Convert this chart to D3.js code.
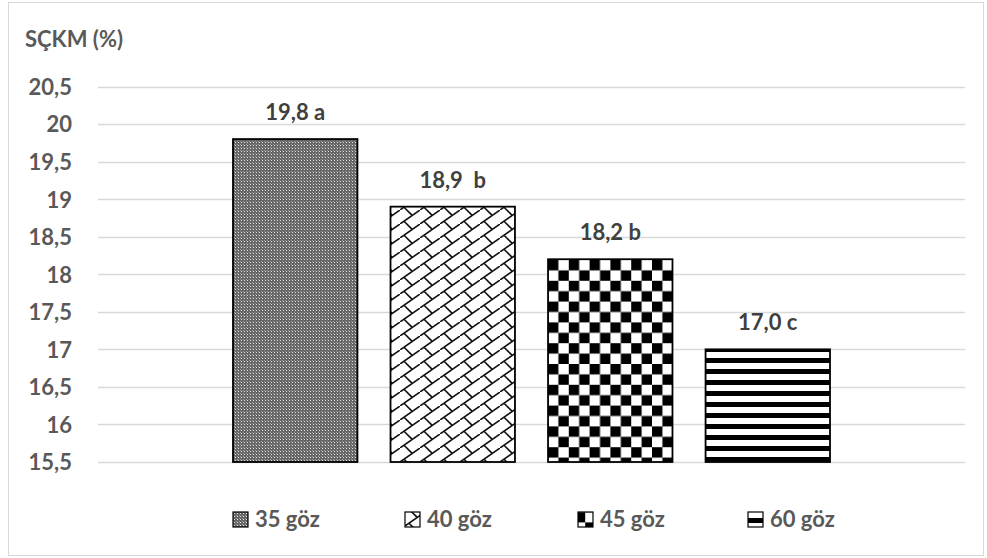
<!DOCTYPE html>
<html>
<head>
<meta charset="utf-8">
<script src="https://cdn.jsdelivr.net/npm/d3@7"></script>
<style>
  html, body { margin: 0; padding: 0; background: #fff; }
  svg { display: block; font-family: Lato, "Open Sans", sans-serif; }
</style>
</head>
<body>
<svg id="chart" width="987" height="558"></svg>
<script>
// Eye count groups and their SÇKM values
const categories = ["35 göz", "40 göz", "45 göz", "60 göz"];
const values = [19.8, 18.9, 18.2, 17.0];
const valueLabels = ["19,8 a", "18,9  b", "18,2 b", "17,0 c"];
const yTicks = [15.5, 16, 16.5, 17, 17.5, 18, 18.5, 19, 19.5, 20, 20.5];
const patternIds = ["pat-dots", "pat-brick", "pat-checker", "pat-stripes"];

const svg = d3.select("#chart");
const W = 987, H = 558;
const FONT = 22;

// chart frame
svg.append("rect")
  .attr("x", 8.5).attr("y", 2.5)
  .attr("width", W - 12).attr("height", H - 5)
  .attr("fill", "#fff").attr("stroke", "#d9d9d9").attr("stroke-width", 1);

// fill patterns
const defs = svg.append("defs");

// fine gray dots
const p1 = defs.append("pattern").attr("id", "pat-dots")
  .attr("patternUnits", "userSpaceOnUse").attr("width", 3).attr("height", 3);
p1.append("rect").attr("width", 3).attr("height", 3).attr("fill", "#666");
p1.append("rect").attr("x", 1).attr("y", 1).attr("width", 1).attr("height", 1).attr("fill", "#e0e0e0");
p1.append("rect").attr("x", 0).attr("y", 0).attr("width", 1).attr("height", 1).attr("fill", "#999");

// diagonal brick
const bw = 20, bh = 14;
const p2 = defs.append("pattern").attr("id", "pat-brick")
  .attr("patternUnits", "userSpaceOnUse").attr("width", bw).attr("height", bh);
p2.append("rect").attr("width", bw).attr("height", bh).attr("fill", "#fff");
const brickLines = [
  [-bw, 2 * bh, 2 * bw, -bh],
  [4, 11.2, 12.2, 19.4],
  [4, 11.2 - bh, 12.2, 19.4 - bh]
];
p2.selectAll("line").data(brickLines).join("line")
  .attr("x1", d => d[0]).attr("y1", d => d[1])
  .attr("x2", d => d[2]).attr("y2", d => d[3])
  .attr("stroke", "#111").attr("stroke-width", 1.6);

// checkerboard
const cs = 10.4;
const p3 = defs.append("pattern").attr("id", "pat-checker")
  .attr("patternUnits", "userSpaceOnUse").attr("width", cs * 2).attr("height", cs * 2)
  .attr("x", 548).attr("y", 260);
p3.append("rect").attr("width", cs * 2).attr("height", cs * 2).attr("fill", "#fff");
p3.append("rect").attr("x", 0).attr("y", 0).attr("width", cs).attr("height", cs).attr("fill", "#000");
p3.append("rect").attr("x", cs).attr("y", cs).attr("width", cs).attr("height", cs).attr("fill", "#000");

// horizontal stripes
const p4 = defs.append("pattern").attr("id", "pat-stripes")
  .attr("patternUnits", "userSpaceOnUse").attr("width", 10).attr("height", 11)
  .attr("y", 352);
p4.append("rect").attr("width", 10).attr("height", 11).attr("fill", "#fff");
p4.append("rect").attr("y", 6).attr("width", 10).attr("height", 5).attr("fill", "#000");

// scales
const gridLeft = 98, gridRight = 965;
const x = d3.scaleBand().domain(categories)
  .range([gridLeft, gridRight]).paddingInner(0.21).paddingOuter(0.857);
const y = d3.scaleLinear().domain([15.5, 20.5]).range([462, 86.5]);

// gridlines
svg.append("g").selectAll("line").data(yTicks).join("line")
  .attr("x1", gridLeft).attr("x2", gridRight)
  .attr("y1", d => Math.round(y(d)) + 0.5).attr("y2", d => Math.round(y(d)) + 0.5)
  .attr("stroke", "#d9d9d9").attr("stroke-width", 1.3);

// y axis labels
const fmt = d => String(d).replace(".", ",");
const yAxis = d3.axisLeft(y).tickValues(yTicks).tickFormat(fmt).tickSize(0).tickPadding(0);
const gy = svg.append("g").attr("transform", "translate(72,0)").call(yAxis);
gy.select(".domain").remove();
gy.selectAll("text")
  .attr("fill", "#595959").attr("font-size", FONT).attr("font-weight", "bold")
  .attr("font-family", "Lato, 'Open Sans', sans-serif").attr("dy", "0.36em");

// axis title
svg.append("text").attr("x", 25).attr("y", 47)
  .attr("fill", "#595959").attr("font-size", FONT).attr("font-weight", "bold")
  .text("SÇKM (%)");

// bars
svg.append("g").selectAll("rect").data(values).join("rect")
  .attr("x", (d, i) => x(categories[i]))
  .attr("y", d => y(d))
  .attr("width", x.bandwidth())
  .attr("height", d => y(15.5) - y(d))
  .attr("fill", (d, i) => `url(#${patternIds[i]})`)
  .attr("stroke", "#000").attr("stroke-width", 1.8);

// value labels
svg.append("g").selectAll("text").data(values).join("text")
  .attr("x", (d, i) => x(categories[i]) + x.bandwidth() / 2)
  .attr("y", d => y(d) - 19)
  .attr("text-anchor", "middle")
  .attr("fill", "#404040").attr("font-size", FONT).attr("font-weight", "bold")
  .style("white-space", "pre")
  .text((d, i) => valueLabels[i]);

// legend
const legendX = [233, 405, 578, 748];
const lg = svg.append("g").selectAll("g").data(categories).join("g")
  .attr("transform", (d, i) => `translate(${legendX[i]},512)`);
lg.append("rect").attr("width", 15).attr("height", 15)
  .attr("fill", (d, i) => `url(#${patternIds[i]})`)
  .attr("stroke", "#000").attr("stroke-width", 1.2);
lg.append("text").attr("x", 22).attr("y", 15)
  .attr("fill", "#595959").attr("font-size", FONT).attr("font-weight", "bold")
  .text(d => d);
</script>
</body>
</html>
